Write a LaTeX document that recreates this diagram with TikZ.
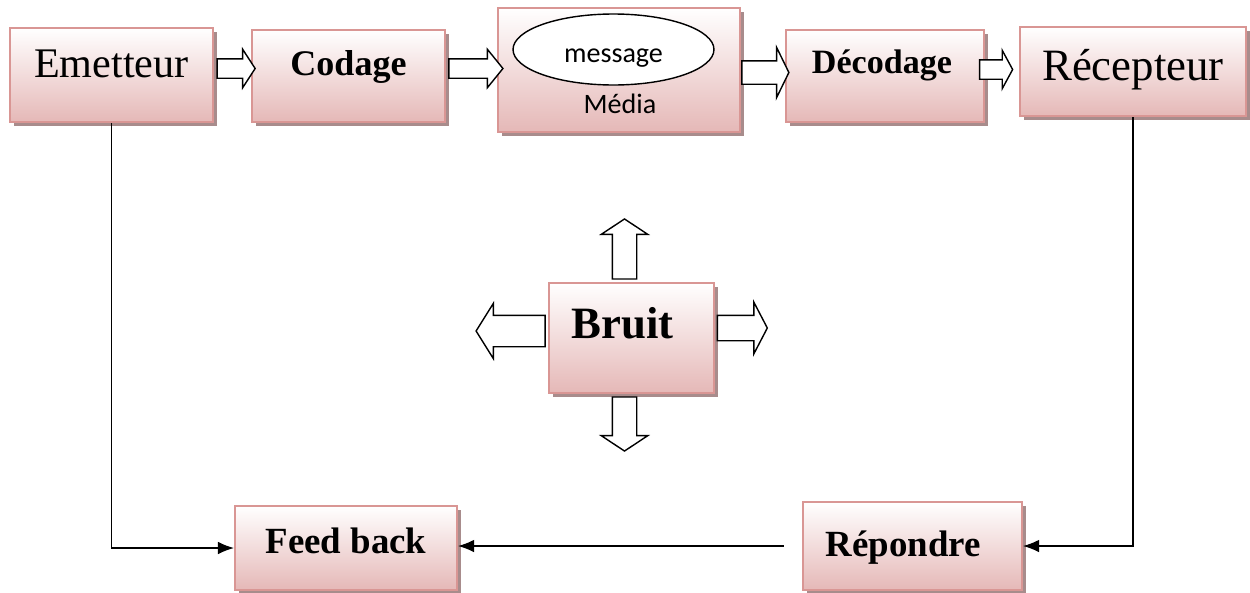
\documentclass[tikz,border=0pt]{standalone}
\usepackage{fontspec}
\setmainfont{Liberation Serif}
\newfontfamily\calibri{Carlito}
\usetikzlibrary{arrows.meta,shapes.geometric,shapes.arrows,shadows}

\definecolor{boxborder}{RGB}{217,150,148}
\definecolor{boxpink}{RGB}{229,184,183}
\definecolor{boxshadow}{RGB}{168,140,140}

\tikzset{
  box/.style={draw=boxborder, line width=1.2pt, rectangle, inner sep=0pt,
    top color=white, bottom color=boxpink,
    drop shadow={shadow xshift=0.08cm, shadow yshift=-0.08cm, fill=boxshadow, opacity=1}},
  blockarrow/.style={draw, fill=white, line width=0.8pt, single arrow,
    minimum width=0pt, outer sep=0pt},
  % length, half shaft, head extend, tip angle (all lengths in px)
  barrow/.style n args={4}{blockarrow, minimum height=#1*0.02cm, inner sep=#2*0.02cm,
    single arrow head extend=#3*0.02cm, single arrow tip angle=#4},
  sans/.style={font=\calibri\fontsize{16}{19}\selectfont}
}

\begin{document}
\begin{tikzpicture}[x=0.02cm, y=-0.02cm, >={Latex[length=0.32cm,width=0.25cm]}]
  \useasboundingbox (0,0) rectangle (1250,592);

  % Define blocks
  \node [box, minimum width=4.06cm, minimum height=1.88cm, text height=0.08cm, text depth=0pt,
    font=\fontsize{24}{28}\selectfont] (emet) at (111.5,75) {Emetteur};
  \node [box, minimum width=3.86cm, minimum height=1.84cm, text height=0pt, text depth=0.04cm,
    font=\bfseries\fontsize{20.5}{24}\selectfont] (cod) at (348.5,76) {Codage};
  \node [box, minimum width=4.84cm, minimum height=2.48cm] (media) at (619,70) {};
  \node [box, minimum width=3.96cm, minimum height=1.84cm, text height=0pt, text depth=0.12cm,
    font=\bfseries\fontsize{19.4}{23}\selectfont] (decod) at (885,76) {Décodage\hspace*{0.12cm}};
  \node [box, minimum width=4.52cm, minimum height=1.78cm, text height=0.34cm, text depth=0pt,
    font=\fontsize{25.5}{30}\selectfont] (recep) at (1133,71.5) {Récepteur};
  \node [box, minimum width=3.3cm, minimum height=2.2cm, text height=0pt, text depth=0pt,
    font=\bfseries\fontsize{25.5}{30}\selectfont] (bruit) at (631.5,338) {Bruit\hspace*{0.36cm}};
  \node [box, minimum width=4.44cm, minimum height=1.68cm, text height=0.2cm, text depth=0pt,
    font=\bfseries\fontsize{21}{25}\selectfont] (feed) at (346,548) {Feed back};
  \node [box, minimum width=4.38cm, minimum height=1.76cm, text height=0.4cm, text depth=0pt,
    font=\bfseries\fontsize{21}{25}\selectfont] (repon) at (912.5,546) {Répondre\hspace*{0.36cm}};

  % Inside the media block
  \node [draw, ellipse, fill=white, line width=0.8pt, minimum width=4.02cm, minimum height=1.42cm,
    inner sep=0pt, text height=0.54cm, text depth=0pt, sans] (msg) at (613.5,49.5) {message};
  \node [sans, anchor=base] (medtxt) at (620,113) {Média};

  % Hollow arrows along the chain
  \node [barrow={38}{9}{9.5}{114}] (a1) at (233,68.5) {};
  \node [barrow={54}{9}{9.5}{102}] (a2) at (472,68.5) {};
  \node [barrow={47}{11}{13.5}{128}] (a3) at (762.5,72.5) {};
  \node [barrow={33}{9}{9.5}{123}] (a4) at (993.5,69.5) {};

  % Noise spreading out
  \node [barrow={60}{11.5}{11}{113}, rotate=90] (nup) at (624.5,253) {};
  \node [barrow={54}{11.5}{11}{113}, rotate=-90] (ndown) at (624.5,420) {};
  \node [barrow={69}{15}{12}{116}, rotate=180] (nleft) at (515.5,331) {};
  \node [barrow={50}{12}{13}{125}] (nright) at (739,328) {};

  % Feedback loop
  \draw [->, line width=0.7pt] (emet.south) |- (feed.west);
  \draw [->, line width=0.7pt] (recep.south) |- (repon.east);
  \draw [->, line width=0.7pt] ([xshift=-0.36cm]repon.west) -- (repon.west -| feed.east);
\end{tikzpicture}
\end{document}
